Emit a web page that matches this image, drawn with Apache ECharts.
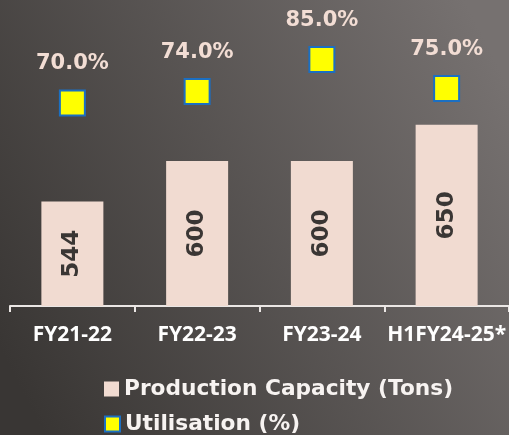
<!DOCTYPE html>
<html><head><meta charset="utf-8">
<script src="https://cdn.jsdelivr.net/npm/echarts@6/dist/echarts.min.js"></script>
<style>html,body{margin:0;padding:0;}#c{width:509px;height:435px;}</style>
</head><body><div id="c"></div>
<script>
var categories = ['FY21-22', 'FY22-23', 'FY23-24', 'H1FY24-25*'];
var capacity = [544, 600, 600, 650];
var utilisation = [70.0, 74.0, 85.0, 75.0];
var seriesNames = ['Production Capacity (Tons)', 'Utilisation (%)'];

var chart = echarts.init(document.getElementById('c'));
var FONT = 'DejaVu Sans';
var FONT2 = 'Open Sans';
var legendText = {color: '#f7f3f1', fontSize: 21.7, fontFamily: FONT, fontWeight: 'bold'};
chart.setOption({
  animation: false,
  backgroundColor: {
    type: 'linear', x: 0, y: 0.8, x2: 1, y2: 0.2,
    colorStops: [{offset: 0, color: '#393634'}, {offset: 1, color: '#767170'}]
  },
  grid: {left: 10, width: 500, top: 16, height: 290, containLabel: false},
  legend: [
    {left: 99, top: 373, itemWidth: 15, itemHeight: 15, itemGap: 6, textStyle: legendText,
     data: [{name: seriesNames[0], icon: 'rect'}]},
    {left: 99, top: 408, itemWidth: 15, itemHeight: 15, itemGap: 6, textStyle: legendText,
     data: [{name: seriesNames[1], icon: 'rect'}]}
  ],
  xAxis: {
    type: 'category', data: categories,
    axisLine: {lineStyle: {color: '#ebe7e5', width: 2}},
    axisTick: {show: true, length: 6, lineStyle: {color: '#ebe7e5', width: 2}},
    axisLabel: {color: '#ffffff', fontSize: 21, fontFamily: FONT2, fontWeight: 'bold', margin: 19,
      interval: 0, hideOverlap: false}
  },
  yAxis: [
    {type: 'value', min: 400, max: 800, show: false, splitLine: {show: false}},
    {type: 'value', min: 0, max: 100, show: false, splitLine: {show: false}}
  ],
  series: [
    {
      name: seriesNames[0], type: 'bar', data: capacity, barWidth: 62,
      itemStyle: {color: '#f1dbd1'},
      label: {show: true, position: 'inside', rotate: 90, color: '#3a3634',
        fontSize: 23, fontFamily: FONT, fontWeight: 'bold'}
    },
    {
      name: seriesNames[1], type: 'scatter', yAxisIndex: 1, data: utilisation,
      symbol: 'rect', symbolSize: 25,
      itemStyle: {color: '#ffff00', borderColor: '#1b6fc2', borderWidth: 2, opacity: 1},
      label: {show: true, position: 'top', distance: 15, color: '#f2ddd4',
        fontSize: 21, fontFamily: FONT, fontWeight: 'bold',
        formatter: function(p){ return p.value.toFixed(1) + '%'; }}
    }
  ]
});
</script></body></html>
